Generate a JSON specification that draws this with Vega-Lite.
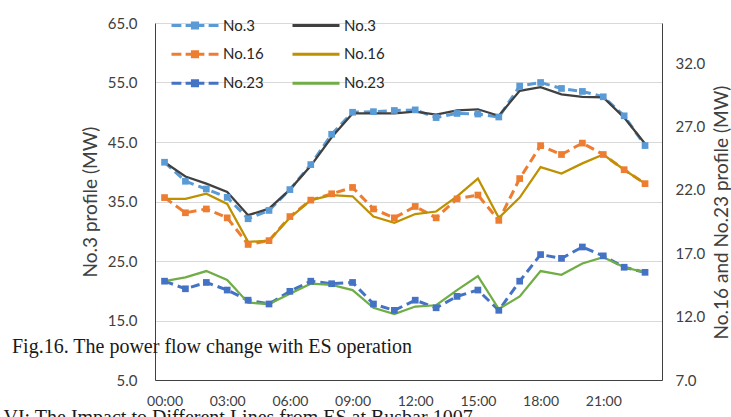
{
  "$schema": "https://vega.github.io/schema/vega-lite/v6.json",
  "width": 507,
  "height": 357,
  "autosize": {"type": "none"},
  "padding": {"left": 155, "top": 23, "right": 69, "bottom": 37},
  "background": "white",
  "config": {
    "view": {"stroke": null},
    "font": "Lato",
    "axis": {"labelFont": "Lato", "titleFont": "Lato", "labelColor": "#404040", "titleColor": "#404040", "domainColor": "#595959", "titleFontWeight": "normal"}
  },
  "title": {
    "text": "Fig.16. The power flow change with ES operation",
    "orient": "bottom",
    "anchor": "start",
    "frame": "group",
    "align": "left",
    "font": "Liberation Serif",
    "fontSize": 20,
    "fontWeight": "normal",
    "color": "#1a1a1a",
    "offset": 0,
    "dx": -143,
    "dy": -90
  },
  "data": {"values": [
    {"t":"00:00","s":"No.3 A","v":41.6},{"t":"01:00","s":"No.3 A","v":38.4},{"t":"02:00","s":"No.3 A","v":37.1},{"t":"03:00","s":"No.3 A","v":35.7},{"t":"04:00","s":"No.3 A","v":32.1},{"t":"05:00","s":"No.3 A","v":33.5},{"t":"06:00","s":"No.3 A","v":37.0},{"t":"07:00","s":"No.3 A","v":41.2},{"t":"08:00","s":"No.3 A","v":46.3},{"t":"09:00","s":"No.3 A","v":50.0},{"t":"10:00","s":"No.3 A","v":50.1},{"t":"11:00","s":"No.3 A","v":50.3},{"t":"12:00","s":"No.3 A","v":50.4},{"t":"13:00","s":"No.3 A","v":49.1},{"t":"14:00","s":"No.3 A","v":49.8},{"t":"15:00","s":"No.3 A","v":49.7},{"t":"16:00","s":"No.3 A","v":49.2},{"t":"17:00","s":"No.3 A","v":54.4},{"t":"18:00","s":"No.3 A","v":55.0},{"t":"19:00","s":"No.3 A","v":54.0},{"t":"20:00","s":"No.3 A","v":53.5},{"t":"21:00","s":"No.3 A","v":52.6},{"t":"22:00","s":"No.3 A","v":49.4},{"t":"23:00","s":"No.3 A","v":44.4},
    {"t":"00:00","s":"No.3 B","v":41.6},{"t":"01:00","s":"No.3 B","v":39.2},{"t":"02:00","s":"No.3 B","v":38.0},{"t":"03:00","s":"No.3 B","v":36.6},{"t":"04:00","s":"No.3 B","v":32.7},{"t":"05:00","s":"No.3 B","v":33.8},{"t":"06:00","s":"No.3 B","v":37.0},{"t":"07:00","s":"No.3 B","v":41.0},{"t":"08:00","s":"No.3 B","v":45.8},{"t":"09:00","s":"No.3 B","v":49.8},{"t":"10:00","s":"No.3 B","v":49.8},{"t":"11:00","s":"No.3 B","v":49.8},{"t":"12:00","s":"No.3 B","v":50.1},{"t":"13:00","s":"No.3 B","v":49.6},{"t":"14:00","s":"No.3 B","v":50.3},{"t":"15:00","s":"No.3 B","v":50.5},{"t":"16:00","s":"No.3 B","v":49.4},{"t":"17:00","s":"No.3 B","v":53.6},{"t":"18:00","s":"No.3 B","v":54.2},{"t":"19:00","s":"No.3 B","v":53.0},{"t":"20:00","s":"No.3 B","v":52.6},{"t":"21:00","s":"No.3 B","v":52.5},{"t":"22:00","s":"No.3 B","v":49.1},{"t":"23:00","s":"No.3 B","v":44.7},
    {"t":"00:00","s":"No.16 A","v":21.4},{"t":"01:00","s":"No.16 A","v":20.2},{"t":"02:00","s":"No.16 A","v":20.5},{"t":"03:00","s":"No.16 A","v":19.8},{"t":"04:00","s":"No.16 A","v":17.7},{"t":"05:00","s":"No.16 A","v":18.0},{"t":"06:00","s":"No.16 A","v":19.9},{"t":"07:00","s":"No.16 A","v":21.2},{"t":"08:00","s":"No.16 A","v":21.7},{"t":"09:00","s":"No.16 A","v":22.2},{"t":"10:00","s":"No.16 A","v":20.5},{"t":"11:00","s":"No.16 A","v":19.8},{"t":"12:00","s":"No.16 A","v":20.7},{"t":"13:00","s":"No.16 A","v":19.8},{"t":"14:00","s":"No.16 A","v":21.3},{"t":"15:00","s":"No.16 A","v":21.6},{"t":"16:00","s":"No.16 A","v":19.6},{"t":"17:00","s":"No.16 A","v":22.9},{"t":"18:00","s":"No.16 A","v":25.5},{"t":"19:00","s":"No.16 A","v":24.8},{"t":"20:00","s":"No.16 A","v":25.7},{"t":"21:00","s":"No.16 A","v":24.8},{"t":"22:00","s":"No.16 A","v":23.6},{"t":"23:00","s":"No.16 A","v":22.5},
    {"t":"00:00","s":"No.16 B","v":21.3},{"t":"01:00","s":"No.16 B","v":21.3},{"t":"02:00","s":"No.16 B","v":21.7},{"t":"03:00","s":"No.16 B","v":20.9},{"t":"04:00","s":"No.16 B","v":17.9},{"t":"05:00","s":"No.16 B","v":18.0},{"t":"06:00","s":"No.16 B","v":19.8},{"t":"07:00","s":"No.16 B","v":21.2},{"t":"08:00","s":"No.16 B","v":21.6},{"t":"09:00","s":"No.16 B","v":21.5},{"t":"10:00","s":"No.16 B","v":19.9},{"t":"11:00","s":"No.16 B","v":19.4},{"t":"12:00","s":"No.16 B","v":20.1},{"t":"13:00","s":"No.16 B","v":20.3},{"t":"14:00","s":"No.16 B","v":21.5},{"t":"15:00","s":"No.16 B","v":22.9},{"t":"16:00","s":"No.16 B","v":19.8},{"t":"17:00","s":"No.16 B","v":21.4},{"t":"18:00","s":"No.16 B","v":23.8},{"t":"19:00","s":"No.16 B","v":23.3},{"t":"20:00","s":"No.16 B","v":24.1},{"t":"21:00","s":"No.16 B","v":24.8},{"t":"22:00","s":"No.16 B","v":23.6},{"t":"23:00","s":"No.16 B","v":22.5},
    {"t":"00:00","s":"No.23 A","v":14.8},{"t":"01:00","s":"No.23 A","v":14.2},{"t":"02:00","s":"No.23 A","v":14.7},{"t":"03:00","s":"No.23 A","v":14.1},{"t":"04:00","s":"No.23 A","v":13.3},{"t":"05:00","s":"No.23 A","v":13.0},{"t":"06:00","s":"No.23 A","v":14.0},{"t":"07:00","s":"No.23 A","v":14.8},{"t":"08:00","s":"No.23 A","v":14.6},{"t":"09:00","s":"No.23 A","v":14.7},{"t":"10:00","s":"No.23 A","v":13.0},{"t":"11:00","s":"No.23 A","v":12.5},{"t":"12:00","s":"No.23 A","v":13.3},{"t":"13:00","s":"No.23 A","v":12.7},{"t":"14:00","s":"No.23 A","v":13.6},{"t":"15:00","s":"No.23 A","v":14.1},{"t":"16:00","s":"No.23 A","v":12.5},{"t":"17:00","s":"No.23 A","v":14.8},{"t":"18:00","s":"No.23 A","v":16.9},{"t":"19:00","s":"No.23 A","v":16.6},{"t":"20:00","s":"No.23 A","v":17.5},{"t":"21:00","s":"No.23 A","v":16.8},{"t":"22:00","s":"No.23 A","v":15.9},{"t":"23:00","s":"No.23 A","v":15.5},
    {"t":"00:00","s":"No.23 B","v":14.8},{"t":"01:00","s":"No.23 B","v":15.1},{"t":"02:00","s":"No.23 B","v":15.6},{"t":"03:00","s":"No.23 B","v":14.9},{"t":"04:00","s":"No.23 B","v":13.1},{"t":"05:00","s":"No.23 B","v":13.0},{"t":"06:00","s":"No.23 B","v":13.8},{"t":"07:00","s":"No.23 B","v":14.6},{"t":"08:00","s":"No.23 B","v":14.5},{"t":"09:00","s":"No.23 B","v":14.1},{"t":"10:00","s":"No.23 B","v":12.7},{"t":"11:00","s":"No.23 B","v":12.2},{"t":"12:00","s":"No.23 B","v":12.8},{"t":"13:00","s":"No.23 B","v":12.9},{"t":"14:00","s":"No.23 B","v":14.1},{"t":"15:00","s":"No.23 B","v":15.2},{"t":"16:00","s":"No.23 B","v":12.6},{"t":"17:00","s":"No.23 B","v":13.6},{"t":"18:00","s":"No.23 B","v":15.6},{"t":"19:00","s":"No.23 B","v":15.3},{"t":"20:00","s":"No.23 B","v":16.2},{"t":"21:00","s":"No.23 B","v":16.7},{"t":"22:00","s":"No.23 B","v":15.9},{"t":"23:00","s":"No.23 B","v":15.5}
  ]},
  "encoding": {
    "x": {
      "field": "t", "type": "ordinal", "sort": null,
      "scale": {"type": "point", "padding": 0.634, "align": 0.36},
      "axis": {"title": "VI: The Impact to Different Lines from ES at Busbar 1007", "titleFont": "Liberation Serif", "titleFontSize": 20, "titleColor": "#1a1a1a", "titleAnchor": "start", "titleAlign": "left", "titleBaseline": "top", "titleX": -152, "titleY": 27,
        "values": ["00:00","03:00","06:00","09:00","12:00","15:00","18:00","21:00"], "labelAngle": 0, "ticks": false, "labelPadding": 14, "labelFontSize": 14, "domainColor": "#404040", "grid": false}
    }
  },
  "layer": [
    {
      "transform": [{"filter": {"field": "s", "oneOf": ["No.3 A", "No.3 B"]}}],
      "encoding": {
        "y": {"field": "v", "type": "quantitative", "scale": {"domain": [5, 65], "nice": false, "zero": false},
          "axis": {"orient": "left", "title": "No.3 profile (MW)", "values": [5,15,25,35,45,55,65], "format": ".1f", "ticks": false, "labelPadding": 18, "labelFontSize": 15, "grid": true, "gridColor": "#D9D9D9", "gridWidth": 1, "titleFontSize": 19, "titlePadding": 7, "domainColor": "#404040"}}
      },
      "layer": [
        {"transform": [{"filter": {"field": "s", "equal": "No.3 A"}}],
         "mark": {"type": "line", "strokeWidth": 3, "strokeDash": [9, 5]},
         "encoding": {"color": {"field": "s", "type": "nominal",
           "scale": {"domain": ["No.3 A","No.3 B","No.16 A","No.16 B","No.23 A","No.23 B"], "range": ["#5B9BD5","#404040","#ED7D31","#BF9000","#4472C4","#70AD47"]},
           "legend": {"orient": "none", "legendX": 15, "legendY": -12, "columns": 2, "title": null, "direction": "horizontal",
             "labelExpr": "split(datum.label, ' ')[0]", "symbolSize": 2209, "labelFontSize": 15, "labelFont": "Lato", "labelColor": "#262626",
             "labelOffset": 3, "columnPadding": 27, "rowPadding": 0, "clipHeight": 28.5, "symbolStrokeWidth": 3,
             "encode": {"symbols": {"update": {
               "shape": {"signal": "indexof(datum.value, ' A') > 0 ? 'M-1,0H-0.58M-0.4,0H-0.12M0.12,0H0.4M0.58,0H1M-0.11,-0.11H0.11V0.11H-0.11Z' : 'M-1,0H1'"},
               "fill": {"scale": "color", "field": "value"},
               "stroke": {"scale": "color", "field": "value"},
               "strokeWidth": {"value": 3},
               "opacity": {"value": 1}
             }}}}}}},
        {"transform": [{"filter": {"field": "s", "equal": "No.3 B"}}],
         "mark": {"type": "line", "strokeWidth": 2.25},
         "encoding": {"color": {"field": "s", "type": "nominal"}}},
        {"transform": [{"filter": {"field": "s", "equal": "No.3 A"}}],
         "mark": {"type": "point", "shape": "square", "filled": true, "size": 45, "opacity": 1},
         "encoding": {"color": {"field": "s", "type": "nominal"}}}
      ]
    },
    {
      "transform": [{"filter": {"field": "s", "oneOf": ["No.16 A", "No.16 B", "No.23 A", "No.23 B"]}}],
      "encoding": {
        "y": {"field": "v", "type": "quantitative", "scale": {"domain": [7, 35.18], "nice": false, "zero": false},
          "axis": {"orient": "right", "title": "No.16 and No.23 profile (MW)", "values": [7,12,17,22,27,32], "format": ".1f", "ticks": false, "labelPadding": 13, "labelFontSize": 15, "grid": false, "titleFontSize": 19, "titlePadding": 8, "titleAngle": 270, "titleBaseline": "top", "titleY": 189, "domainColor": "#404040"}}
      },
      "layer": [
        {"transform": [{"filter": {"field": "s", "oneOf": ["No.16 A", "No.23 A"]}}],
         "mark": {"type": "line", "strokeWidth": 3, "strokeDash": [9, 5]},
         "encoding": {"color": {"field": "s", "type": "nominal"}, "detail": {"field": "s"}}},
        {"transform": [{"filter": {"field": "s", "oneOf": ["No.16 B", "No.23 B"]}}],
         "mark": {"type": "line", "strokeWidth": 2.25},
         "encoding": {"color": {"field": "s", "type": "nominal"}}},
        {"transform": [{"filter": {"field": "s", "oneOf": ["No.16 A", "No.23 A"]}}],
         "mark": {"type": "point", "shape": "square", "filled": true, "size": 45, "opacity": 1},
         "encoding": {"color": {"field": "s", "type": "nominal"}}}
      ]
    }
  ],
  "resolve": {"scale": {"y": "independent"}, "axis": {"y": "independent"}}
}
